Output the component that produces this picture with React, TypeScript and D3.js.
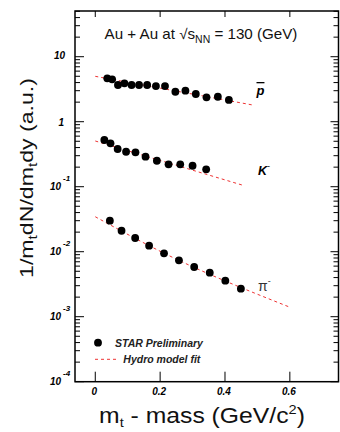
import React, { useLayoutEffect, useRef, useState } from "react";
import * as d3 from "d3";

// ---- data ----
const pbarX = [0.037, 0.052, 0.070, 0.090, 0.112, 0.135, 0.160, 0.187, 0.215, 0.247, 0.278, 0.310, 0.343, 0.378, 0.412];
const pbarY = [4.65, 4.49, 3.67, 3.90, 3.67, 3.67, 3.67, 3.54, 3.54, 2.89, 3.00, 2.67, 2.37, 2.42, 2.16];

const kX = [0.028, 0.047, 0.069, 0.095, 0.124, 0.155, 0.190, 0.226, 0.262, 0.300, 0.342];
const kY = [0.523, 0.465, 0.380, 0.345, 0.338, 0.290, 0.251, 0.221, 0.221, 0.210, 0.185];

const piX = [0.045, 0.081, 0.123, 0.166, 0.212, 0.258, 0.305, 0.353, 0.401, 0.449];
const piY = [0.0300, 0.0210, 0.01625, 0.01237, 0.00945, 0.00738, 0.00582, 0.00475, 0.00358, 0.00270];

const pbarFitX = [0, 0.49];
const pbarFitY = [4.99, 1.79];
const kFitX = [0, 0.46];
const kFitY = [0.505, 0.1035];
const piFitX = [0, 0.21, 0.6];
const piFitY = [0.0345, 0.0096, 0.0014];

const xTicks = [0, 0.2, 0.4, 0.6];
const xTickLabels = ["0", "0.2", "0.4", "0.6"];
const yTickExps = [-4, -3, -2, -1, 0, 1];

const FONT = "'Liberation Sans', Arial, Helvetica, sans-serif";
const RED = "#ee3333";

function FitText(props: any) {
  const { x, y, width, rotate = 0, fontSize, children, ...rest } = props;
  const ref = useRef<SVGTextElement>(null);
  const [s, setS] = useState(1);
  useLayoutEffect(() => {
    if (ref.current) {
      const w = ref.current.getBBox().width;
      if (w > 0) setS(width / w);
    }
  }, [width]);
  return (
    <g transform={`translate(${x},${y}) rotate(${rotate}) scale(${s},1)`}>
      <text ref={ref} textAnchor="middle" fontSize={fontSize} fontFamily={FONT} {...rest}>
        {children}
      </text>
    </g>
  );
}

export default function App() {
  const W = 340, H = 432;
  const left = 75, right = 338.5, top = 11, bottom = 381.7;
  const x = d3.scaleLinear().domain([-0.0625, 0.75]).range([left, right]);
  const y = d3.scaleLog().domain([1e-4, 50.5]).range([bottom, top]);

  const line = d3
    .line<[number, number]>()
    .x((d) => x(d[0]))
    .y((d) => y(d[1]));
  const curve = d3
    .line<[number, number]>()
    .x((d) => x(d[0]))
    .y((d) => y(d[1]))
    .curve(d3.curveMonotoneX);

  const zip = (a: number[], b: number[]) => a.map((v, i) => [v, b[i]] as [number, number]);

  const minor: number[] = [];
  for (let e = -4; e <= 1; e++) {
    for (let k = 2; k <= 9; k++) {
      const v = k * Math.pow(10, e);
      if (v <= 50.5) minor.push(v);
    }
  }

  const series = [
    { xs: pbarX, ys: pbarY },
    { xs: kX, ys: kY },
    { xs: piX, ys: piY },
  ];

  return (
    <svg
      width={W}
      height={H}
      style={{ position: "absolute", left: 0, top: 0, background: "#fff" }}
      fontFamily={FONT}
    >
      <rect x={0} y={0} width={W} height={H} fill="#fff" />

      {/* title */}
      <FitText x={201} y={39} width={193} fontSize={14.5} fill="#111">
        Au + Au at √s
        <tspan fontSize={10} dy={4}>NN</tspan>
        <tspan dy={-4}> = 130 (GeV)</tspan>
      </FitText>

      {/* fits */}
      <path d={line(zip(pbarFitX, pbarFitY)) || ""} fill="none" stroke={RED} strokeWidth={1} strokeDasharray="3 3" />
      <path d={line(zip(kFitX, kFitY)) || ""} fill="none" stroke={RED} strokeWidth={1} strokeDasharray="3 3" />
      <path d={curve(zip(piFitX, piFitY)) || ""} fill="none" stroke={RED} strokeWidth={1} strokeDasharray="3 3" />

      {/* points */}
      {series.map((s, si) =>
        s.xs.map((v, i) => <circle key={`${si}-${i}`} cx={x(v)} cy={y(s.ys[i])} r={3.9} fill="#000" />)
      )}

      {/* species labels */}
      <text x={256.5} y={95} fontSize={13} fontWeight="bold" fontStyle="italic" textDecoration="overline">
        p
      </text>
      <text x={258} y={175} fontSize={12.5} fontWeight="bold" fontStyle="italic">
        K<tspan fontSize={9} dy={-6} fontStyle="normal" fontWeight="normal">-</tspan>
      </text>
      <text x={258} y={290.7} fontSize={14} fill="#333">
        π<tspan fontSize={9} dy={-7}>-</tspan>
      </text>

      {/* frame */}
      <rect x={left} y={top} width={right - left} height={bottom - top} fill="none" stroke="#000" strokeWidth={1.5} />

      {/* y ticks */}
      {yTickExps.map((e) => {
        const yy = y(Math.pow(10, e));
        return (
          <g key={`yt${e}`}>
            <line x1={left} x2={left + 9} y1={yy} y2={yy} stroke="#000" strokeWidth={1} />
            <line x1={right - 8} x2={right} y1={yy} y2={yy} stroke="#000" strokeWidth={1} />
          </g>
        );
      })}
      {minor.map((v, i) => {
        const yy = y(v);
        return (
          <g key={`ym${i}`}>
            <line x1={left} x2={left + 5} y1={yy} y2={yy} stroke="#000" strokeWidth={1} />
            <line x1={right - 5} x2={right} y1={yy} y2={yy} stroke="#000" strokeWidth={1} />
          </g>
        );
      })}

      {/* y tick labels */}
      {yTickExps.map((e) => {
        const yy = y(Math.pow(10, e));
        if (e === 0)
          return (
            <text key={`yl${e}`} x={64} y={yy + 4} textAnchor="end" fontSize={10} fontWeight="bold" fontStyle="italic">
              1
            </text>
          );
        if (e === 1)
          return (
            <text key={`yl${e}`} x={65} y={yy + 2.5} textAnchor="end" fontSize={10} fontWeight="bold" fontStyle="italic">
              10
            </text>
          );
        return (
          <g key={`yl${e}`}>
            <text x={61} y={yy + 3.5} textAnchor="end" fontSize={10} fontWeight="bold" fontStyle="italic">
              10
            </text>
            <text x={63} y={yy - 6} fontSize={8} fontWeight="bold" fontStyle="italic">
              {`-${-e}`}
            </text>
          </g>
        );
      })}

      {/* x ticks */}
      {xTicks.map((v, i) => (
        <g key={`xt${i}`}>
          <line x1={x(v)} x2={x(v)} y1={bottom} y2={bottom - 10} stroke="#000" strokeWidth={1} />
          <line x1={x(v)} x2={x(v)} y1={top} y2={top + 6} stroke="#000" strokeWidth={1} />
          <text x={x(v) - 1} y={395} textAnchor="middle" fontSize={10} fontWeight="bold" fontStyle="italic">
            {xTickLabels[i]}
          </text>
        </g>
      ))}

      {/* legend */}
      <circle cx={98} cy={342.7} r={3.9} fill="#000" />
      <text x={115} y={347} fontSize={10.5} fontWeight="bold" fontStyle="italic" fill="#222">
        STAR Preliminary
      </text>
      <line x1={95} x2={118.3} y1={359.3} y2={359.3} stroke={RED} strokeWidth={1} strokeDasharray="3 3" />
      <text x={123.3} y={362.5} fontSize={10.5} fontWeight="bold" fontStyle="italic" fill="#222">
        Hydro model fit
      </text>

      {/* axis titles */}
      <FitText x={202} y={423} width={206} fontSize={22} fill="#111">
        m<tspan fontSize={13} dy={4}>t</tspan>
        <tspan dy={-4}> - mass (GeV/c</tspan>
        <tspan fontSize={13} dy={-9}>2</tspan>
        <tspan dy={9}>)</tspan>
      </FitText>
      <FitText x={33} y={178} rotate={-90} width={200} fontSize={18} fill="#111">
        1/m<tspan fontSize={12} dy={4}>t</tspan>
        <tspan dy={-4}>dN/dm</tspan>
        <tspan fontSize={12} dy={4}>t</tspan>
        <tspan dy={-4}>dy (a.u.)</tspan>
      </FitText>
    </svg>
  );
}
